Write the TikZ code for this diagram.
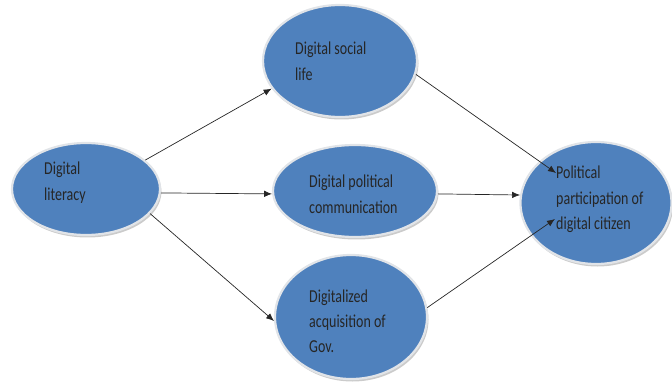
\documentclass[tikz,border=0pt]{standalone}
\usepackage{fontspec}
\setmainfont{Carlito}
\usetikzlibrary{shapes.geometric,shadows,arrows.meta,calc}
\definecolor{ellblue}{RGB}{79,129,189}
\definecolor{rimgray}{RGB}{225,228,232}
\newcommand{\ltxt}[1]{\scalebox{1}[1.3]{\begin{tabular}[t]{@{}l@{}}#1\end{tabular}}}
\tikzset{
  ell/.style={ellipse, inner sep=0pt, fill=ellblue, draw=rimgray, line width=2.2pt,
    drop shadow={shadow xshift=1.5pt, shadow yshift=-2.5pt, fill=black!45, opacity=0.45}},
  lbl/.style={anchor=base west, align=left, inner sep=0pt, text=black!85,
    font=\fontsize{14}{19.6}\selectfont},
  arr/.style={-{Latex[length=8pt,width=6.5pt]}, line width=0.7pt, draw=black!85}
}
\begin{document}
\begin{tikzpicture}[x=1pt,y=-1pt]
\useasboundingbox (0,0) rectangle (672,390);
% ellipses
\node[ell, minimum width=148pt, minimum height=92pt] (lit) at (86,189) {};
\node[ell, minimum width=154pt, minimum height=112pt] (soc) at (340,61) {};
\node[ell, minimum width=164pt, minimum height=92pt] (com) at (355,191) {};
\node[ell, minimum width=152pt, minimum height=124pt] (acq) at (351,317) {};
\node[ell, minimum width=151pt, minimum height=122pt] (par) at (596,203) {};
% labels
\node[lbl] (tlit) at (44,175) {\ltxt{Digital\\literacy}};
\node[lbl] (tsoc) at (295,55) {\ltxt{Digital social\\life}};
\node[lbl] (tcom) at (309,188) {\ltxt{Digital political\\communication}};
\node[lbl] (tacq) at (309,302) {\ltxt{Digitalized\\acquisition of\\Gov.}};
\node[lbl] (tpar) at (556,179) {\ltxt{Political\\participation of\\digital citizen}};
% arrow targets inside the participation ellipse
\coordinate (p1) at ($(par.center)+(-40,-30)$);
\coordinate (p3) at ($(par.center)+(-41,16)$);
% connectors
\draw[arr] (lit.26) -- (soc.202);
\draw[arr] (lit.-3) -- (com.182);
\draw[arr] (lit.-21) -- (acq.183);
\draw[arr] (soc.-10) -- (p1);
\draw[arr] (com.-2) -- (par.174);
\draw[arr] (acq.7) -- (p3);
\end{tikzpicture}
\end{document}
